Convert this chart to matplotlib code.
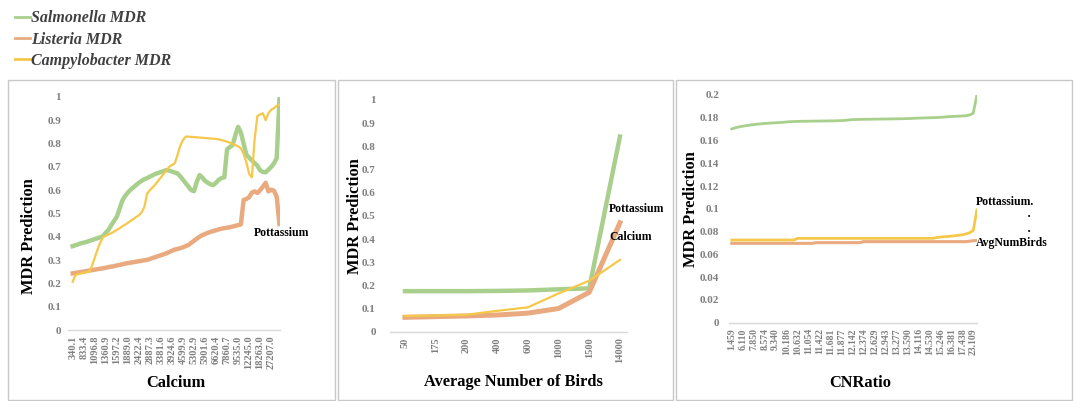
import matplotlib
matplotlib.use("Agg")
import matplotlib.pyplot as plt
from matplotlib.patches import Rectangle

# ---------------- data ----------------
series_names = ["Salmonella MDR", "Listeria MDR", "Campylobacter MDR"]

# Chart 1: Calcium (76 categories, every 4th labelled)
ca_labels = ["340.1", "833.4", "1096.8", "1360.9", "1597.2", "1889.0", "2422.4",
             "2887.3", "3381.6", "3924.6", "4599.9", "5302.9", "5901.6", "6620.4",
             "7860.7", "9535.0", "12245.0", "18263.0", "27207.0"]
ca_salmonella = [.360, .364, .368, .372, .375, .378, .382, .386, .390, .394,
                 .398, .403, .418, .430, .450, .468, .486, .520, .555, .575,
                 .590, .602, .612, .622, .632, .640, .647, .652, .658, .664,
                 .670, .674, .678, .682, .686, .684, .680, .676, .672, .660,
                 .645, .630, .615, .600, .596, .635, .665, .655, .640, .632,
                 .625, .622, .632, .645, .652, .655, .775, .785, .794, .835,
                 .872, .848, .800, .752, .740, .728, .716, .705, .685, .678,
                 .677, .688, .700, .715, .737, .990]
ca_listeria = [.243, .245, .247, .249, .251, .253, .255, .257, .259, .261,
               .263, .265, .267, .270, .272, .274, .277, .279, .282, .285,
               .287, .289, .291, .293, .295, .297, .299, .301, .305, .309,
               .313, .317, .321, .325, .329, .335, .340, .345, .348, .351,
               .355, .360, .365, .374, .383, .392, .400, .407, .412, .417,
               .421, .425, .428, .432, .435, .437, .439, .441, .444, .447,
               .450, .453, .558, .562, .570, .590, .595, .588, .600, .615,
               .632, .595, .602, .598, .572, .455]
ca_campylobacter = [.207, .236, .240, .243, .246, .248, .250, .275, .310, .345,
                    .375, .398, .405, .410, .416, .422, .430, .436, .445, .452,
                    .460, .468, .476, .485, .492, .505, .528, .585, .600, .612,
                    .625, .640, .655, .670, .685, .700, .708, .715, .750, .790,
                    .815, .830, .830, .829, .828, .827, .826, .825, .824, .823,
                    .822, .821, .820, .818, .815, .812, .808, .804, .798, .794,
                    .788, .780, .755, .720, .670, .655, .820, .918, .925, .930,
                    .900, .930, .945, .952, .962, .966]

# Chart 2: Average Number of Birds
birds_labels = ["50", "175", "200", "400", "600", "1000", "1500", "14000"]
birds_salmonella = [0.175, 0.175, 0.175, 0.176, 0.178, 0.183, 0.187, 0.842]
birds_listeria = [0.062, 0.065, 0.068, 0.072, 0.080, 0.100, 0.170, 0.470]
birds_campylobacter = [0.068, 0.070, 0.073, 0.090, 0.105, 0.165, 0.220, 0.310]

# Chart 3: CNRatio (68 categories, every 3rd labelled)
cn_labels = ["1.459", "6.110", "7.850", "8.574", "9.340", "10.186", "10.632",
             "11.054", "11.422", "11.681", "11.877", "12.142", "12.374", "12.629",
             "12.943", "13.277", "13.590", "14.116", "14.530", "15.246", "16.381",
             "17.438", "23.109"]
cn_salmonella = [.1702, .1712, .1720, .1726, .1731, .1736, .1740, .1744, .1747, .1750,
                 .1752, .1754, .1756, .1758, .1760, .1763, .1766, .1767, .1768, .1769,
                 .1769, .1770, .1770, .1771, .1771, .1772, .1772, .1773, .1773, .1774,
                 .1775, .1777, .1781, .1784, .1785, .1786, .1786, .1787, .1787, .1788,
                 .1788, .1789, .1789, .1790, .1790, .1791, .1791, .1792, .1793, .1794,
                 .1796, .1797, .1798, .1799, .1800, .1801, .1802, .1804, .1806, .1809,
                 .1811, .1812, .1814, .1816, .1818, .1824, .1840, .2000]
cn_listeria = [.0697] * 23 + [.0703] * 13 + [.0712] * 29 + [.0716, .0720, .0722]
cn_campylobacter = [.0726] * 18 + [.0741] * 38 + [.0748, .0752, .0755, .0757,
                                                 .0760, .0764, .0768, .0772,
                                                 .0780, .0790, .0810, .0990]

# ---------------- style ----------------
W, H = 1074, 401
GREEN = "#A9CF8D"
ORANGE = "#E9AA80"
YELLOW = "#F5C849"
TICK_C = "#7F7F7F"
SERIF = ["Liberation Serif", "DejaVu Serif"]

plt.rcParams["font.family"] = SERIF

fig = plt.figure(figsize=(W / 100, H / 100), dpi=100)


def fx(px):
    return px / W


def fy(py):
    return 1 - py / H


def make_axes(left, right, top, bottom):
    return fig.add_axes([fx(left), fy(bottom), fx(right - left), (bottom - top) / H])


def style(ax, ylim, yticks, yfmt, xtick_pos, xtick_labels, ypad, xsize):
    ax.set_ylim(*ylim)
    ax.set_yticks(yticks)
    ax.set_yticklabels([yfmt(v) for v in yticks])
    ax.set_xticks(xtick_pos)
    ax.set_xticklabels(xtick_labels, rotation=90)
    for s in ["top", "right", "left"]:
        ax.spines[s].set_visible(False)
    ax.spines["bottom"].set_color("#D9D9D9")
    ax.spines["bottom"].set_linewidth(1.0)
    ax.tick_params(axis="both", length=0, labelcolor=TICK_C)
    ax.tick_params(axis="y", pad=ypad, labelsize=8)
    ax.tick_params(axis="x", pad=4, labelsize=xsize)
    for lab in ax.get_xticklabels() + ax.get_yticklabels():
        lab.set_fontweight("bold")
    ax.set_facecolor("none")


def axis_titles(xlabel, xc, ylabel, yc):
    fig.text(fx(xc[0]), fy(xc[1]), xlabel, fontsize=11.8, fontweight="bold",
             ha="center", va="center")
    fig.text(fx(yc[0]), fy(yc[1]), ylabel, fontsize=11.8, fontweight="bold",
             ha="center", va="center", rotation=90)


# panel borders
for (l, r, t, b) in [(8, 335, 80, 400), (338, 673, 80, 400), (675.5, 1072, 80, 399.5)]:
    fig.patches.append(Rectangle((fx(l), fy(b)), fx(r - l), (b - t) / H,
                                 transform=fig.transFigure, fill=False,
                                 edgecolor="#C8C8C8", linewidth=1.0))

yfmt1 = lambda v: "0" if v == 0 else ("1" if v == 1 else f"{v:g}")

# ---------------- chart 1 ----------------
ax1 = make_axes(68, 280, 97, 330)
x1 = list(range(len(ca_salmonella)))
l_s, = ax1.plot(x1, ca_salmonella, color=GREEN, lw=3.2, solid_joinstyle="round",
                label=series_names[0])
l_l, = ax1.plot(x1, ca_listeria, color=ORANGE, lw=3.2, solid_joinstyle="round",
                label=series_names[1])
l_c, = ax1.plot(x1, ca_campylobacter, color=YELLOW, lw=1.6, solid_joinstyle="round",
                label=series_names[2])
ax1.set_xlim(-1.7, 75.2)
style(ax1, (0, 1), [i / 10 for i in range(11)], yfmt1,
      list(range(0, 4 * len(ca_labels), 4)), ca_labels, 5, 7.5)
axis_titles("Calcium", (176, 383), "MDR Prediction", (29, 236))
ax1.text(65.8, 0.415, "Pottassium", fontsize=8.5, fontweight="bold",
         va="center", ha="left", clip_on=False)

# ---------------- chart 2 ----------------
ax2 = make_axes(389.6, 627, 100, 331.7)
x2 = list(range(len(birds_labels)))
ax2.plot(x2, birds_salmonella, color=GREEN, lw=3.2, solid_joinstyle="round")
ax2.plot(x2, birds_listeria, color=ORANGE, lw=3.6, solid_joinstyle="round")
ax2.plot(x2, birds_campylobacter, color=YELLOW, lw=1.6, solid_joinstyle="round")
ax2.set_xlim(-0.5, 7.23)
style(ax2, (0, 1), [i / 10 for i in range(11)], yfmt1, x2, birds_labels, 10, 7.5)
axis_titles("Average Number of Birds", (513, 382), "MDR Prediction", (355, 216))
ax2.text(6.64, 0.53, "Pottassium", fontsize=8.5, fontweight="bold",
         va="center", ha="left", clip_on=False)
ax2.text(6.64, 0.41, "Calcium", fontsize=8.5, fontweight="bold",
         va="center", ha="left", clip_on=False)

# ---------------- chart 3 ----------------
ax3 = make_axes(729, 976.9, 95, 322.7)
x3 = list(range(len(cn_salmonella)))
ax3.plot(x3, cn_salmonella, color=GREEN, lw=2.0, solid_joinstyle="round")
ax3.plot(x3, cn_listeria, color=ORANGE, lw=2.2, solid_joinstyle="round")
ax3.plot(x3, cn_campylobacter, color=YELLOW, lw=2.0, solid_joinstyle="round")
ax3.set_xlim(-0.75, 67)
style(ax3, (0, 0.2), [i * 0.02 for i in range(11)],
      lambda v: "0" if abs(v) < 1e-9 else f"{v:.2f}".rstrip("0").rstrip("."),
      list(range(0, 3 * len(cn_labels), 3)), cn_labels, 7, 7)
axis_titles("CNRatio", (860, 383), "MDR Prediction", (691, 209))
ax3.text(66.75, 0.1063, "Pottassium.", fontsize=8.5, fontweight="bold",
         va="center", ha="left", clip_on=False)
ax3.text(81.3, 0.0926, "·", fontsize=9, fontweight="bold", va="center",
         ha="center", clip_on=False)
ax3.text(81.3, 0.0799, "·", fontsize=9, fontweight="bold", va="center",
         ha="center", clip_on=False)
ax3.text(66.75, 0.0697, "AvgNumBirds", fontsize=8.5, fontweight="bold",
         va="center", ha="left", clip_on=False)

# ---------------- legend ----------------
leg = fig.legend(handles=[l_s, l_l, l_c], loc="upper left",
                 bbox_to_anchor=(fx(15), fy(10.5)), frameon=False, borderpad=0,
                 borderaxespad=0, handlelength=0.95, handletextpad=0.05,
                 labelspacing=0.33,
                 prop={"family": SERIF, "weight": "bold", "style": "italic",
                       "size": 11.5})
for t in leg.get_texts():
    t.set_color("#404040")
for ln in leg.get_lines():
    ln.set_linewidth(2.0)

fig.savefig("out.png", dpi=100)
